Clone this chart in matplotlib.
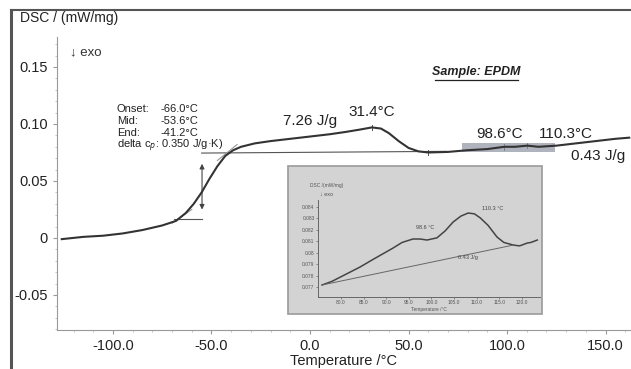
import matplotlib
matplotlib.use("Agg")
import matplotlib.pyplot as plt
from matplotlib.patches import Rectangle
from matplotlib.ticker import MultipleLocator, FuncFormatter

plt.rcParams['font.family'] = ['Liberation Sans', 'DejaVu Sans']

# main DSC curve (temperature in degC, DSC in mW/mg)
temp = [-126, -115, -105, -95, -85, -75, -68, -63, -59, -55, -51, -47, -43, -39,
        -35, -28, -20, -10, 0, 10, 18, 25, 31.4, 36, 40, 45, 50, 55, 60, 70, 80,
        90, 98.6, 104, 110.3, 116, 125, 135, 145, 155, 162]
dsc = [-0.001, 0.001, 0.002, 0.004, 0.007, 0.011, 0.015, 0.022, 0.030, 0.040,
       0.052, 0.063, 0.072, 0.077, 0.080, 0.083, 0.085, 0.087, 0.089, 0.091,
       0.093, 0.095, 0.097, 0.096, 0.092, 0.085, 0.079, 0.076, 0.075, 0.0755,
       0.077, 0.078, 0.080, 0.080, 0.081, 0.080, 0.081, 0.083, 0.085, 0.087, 0.088]

# zoomed region (inset)
in_temp = [75.8, 78, 84.2, 87, 91.5, 93.5, 95.9, 97.5, 99.0, 101.2, 103, 104.8,
           106.5, 108.1, 109.5, 110.8, 112.5, 114.5, 116, 118.1, 119.5, 121.2, 122, 123.4]
in_dsc = [0.07718, 0.0775, 0.07875, 0.0794, 0.08041, 0.0809, 0.0812, 0.0812,
          0.08111, 0.0813, 0.0819, 0.08269, 0.0832, 0.08347, 0.0834, 0.08304,
          0.0824, 0.08137, 0.0809, 0.08067, 0.0806, 0.08085, 0.0809, 0.08111]
in_base_t = [75.8, 118.1]
in_base_v = [0.07718, 0.08067]

xticks = [-100, -50, 0, 50, 100, 150]
yticks = [-0.05, 0, 0.05, 0.10, 0.15]
in_xticks = [80, 85, 90, 95, 100, 105, 110, 115, 120]
in_yticks = [0.077, 0.078, 0.079, 0.080, 0.081, 0.082, 0.083, 0.084]
in_ylabels = ['0.077', '0.078', '0.079', '0.08', '0.081', '0.082', '0.083', '0.084']

W, H = 631, 369
fig = plt.figure(figsize=(W / 100, H / 100), dpi=100)

def fx(px):
    return px / W

def fy(py):
    return 1 - py / H

# outer frame
fig.add_artist(plt.Line2D([fx(11), fx(11)], [fy(10), 0], color='#555555', lw=2.2, transform=fig.transFigure))
fig.add_artist(plt.Line2D([fx(11), 1], [fy(10), fy(10)], color='#555555', lw=1.5, transform=fig.transFigure))

ax = fig.add_axes([fx(57), fy(330), 1 - fx(57), fy(37) - fy(330)])
ax.set_xlim(-128.4, 162.9)
ax.set_ylim(-0.0807, 0.1763)
ax.plot(temp, dsc, color='#333333', lw=1.5, zorder=5)

for s in ['top', 'right']:
    ax.spines[s].set_visible(False)
for s in ['left', 'bottom']:
    ax.spines[s].set_color('#999999')
    ax.spines[s].set_linewidth(0.8)
ax.set_xticks(xticks)
ax.set_yticks(yticks)
ax.xaxis.set_minor_locator(MultipleLocator(10))
ax.yaxis.set_minor_locator(MultipleLocator(0.01))
ax.xaxis.set_major_formatter(FuncFormatter(lambda v, p: f'{v:.1f}'))
ax.yaxis.set_major_formatter(FuncFormatter(lambda v, p: '0' if abs(v) < 1e-9 else f'{v:.2f}'))
ax.tick_params(axis='both', which='major', length=3, color='#999999', labelsize=10.5, labelcolor='#222222')
ax.tick_params(axis='both', which='minor', length=1.5, color='#bbbbbb')
ax.set_xlabel('Temperature /°C', fontsize=10.5, color='#222222', labelpad=1)

fig.text(fx(20), fy(18), 'DSC / (mW/mg)', fontsize=10, color='#222222', va='center')
ax.text(-122, 0.163, '↓ exo', fontsize=9.5, color='#333333', va='center')

# glass transition construction
ax.plot([-69, -55], [0.0167, 0.0167], color='#555555', lw=0.8)
ax.plot([-55, 69], [0.0745, 0.0760], color='#555555', lw=0.8)
ax.annotate('', xy=(-54.8, 0.0675), xytext=(-54.8, 0.0225),
            arrowprops=dict(arrowstyle='<|-|>', color='#444444', lw=0.8, mutation_scale=7))
ax.plot([-70, -60], [0.013, 0.025], color='#999999', lw=0.8)
ax.plot([-47, -37], [0.068, 0.082], color='#999999', lw=0.8)

rows = [('Onset:', '-66.0°C'), ('Mid:', '-53.6°C'), ('End:', '-41.2°C')]
for i, (a, b) in enumerate(rows):
    ax.text(-98, 0.1128 - i * 0.0105, a, fontsize=8, color='#222222', va='center')
    ax.text(-76, 0.1128 - i * 0.0105, b, fontsize=8, color='#222222', va='center')
ax.text(-98, 0.1128 - 3 * 0.0105, 'delta c$_p$: 0.350 J/g·K)', fontsize=8, color='#222222', va='center')

# peak markers
for t, v in [(31.4, 0.097), (60, 0.075), (98.6, 0.080), (110.3, 0.081)]:
    ax.plot([t, t], [v - 0.0025, v + 0.0025], color='#555555', lw=0.7)

ax.text(0, 0.1025, '7.26 J/g', fontsize=11, color='#222222', ha='center', va='center')
ax.text(31.4, 0.1105, '31.4°C', fontsize=11, color='#222222', ha='center', va='center')
ax.text(96, 0.0915, '98.6°C', fontsize=11, color='#222222', ha='center', va='center')
ax.text(130, 0.0915, '110.3°C', fontsize=11, color='#222222', ha='center', va='center')
ax.text(146, 0.0715, '0.43 J/g', fontsize=11, color='#222222', ha='center', va='center')
ax.text(fx(476), fy(72), 'Sample: EPDM', transform=fig.transFigure, fontsize=9, fontweight='bold',
        style='italic', color='#222222', ha='center', va='center')
ax.plot([fx(435), fx(518)], [fy(80), fy(80)], transform=fig.transFigure, color='#222222', lw=0.9)

ax.add_patch(Rectangle((77, 0.0754), 47.5, 0.0079, facecolor='#8d93a3', alpha=0.7,
                       edgecolor='none', zorder=3))

# inset
fig.add_artist(Rectangle((fx(288), fy(314)), fx(542) - fx(288), fy(166) - fy(314),
                         transform=fig.transFigure, facecolor='#d3d3d3',
                         edgecolor='#9a9a9a', lw=1.2, zorder=6))
ia = fig.add_axes([fx(318), fy(297), fx(540) - fx(318), fy(200) - fy(297)], zorder=7)
ia.patch.set_alpha(0)
ia.set_xlim(74.9, 124.0)
ia.set_ylim(0.07613, 0.08461)
ia.plot(in_temp, in_dsc, color='#444444', lw=1.1)
ia.plot(in_base_t, in_base_v, color='#666666', lw=0.7)
for s in ['top', 'right']:
    ia.spines[s].set_visible(False)
for s in ['left', 'bottom']:
    ia.spines[s].set_color('#666666')
    ia.spines[s].set_linewidth(0.7)
ia.set_xticks(in_xticks)
ia.set_xticklabels([f'{t:.1f}' for t in in_xticks])
ia.set_yticks(in_yticks)
ia.set_yticklabels(in_ylabels)
ia.tick_params(labelsize=3.5, length=1.5, width=0.5, color='#666666', labelcolor='#555555', pad=1)
ia.set_xlabel('Temperature /°C', fontsize=3.5, color='#555555', labelpad=1)
fig.text(fx(310), fy(186), 'DSC /(mW/mg)', fontsize=3.5, color='#555555', va='center', zorder=8)
fig.text(fx(320), fy(194), '↓ exo', fontsize=4, color='#555555', va='center', zorder=8)
ia.text(98.5, 0.0822, '98.6 °C', fontsize=4, color='#444444', ha='center', va='center')
ia.text(113.5, 0.0839, '110.3 °C', fontsize=4, color='#444444', ha='center', va='center')
ia.text(108, 0.0796, '0.43 J/g', fontsize=4, color='#444444', ha='center', va='center')

fig.savefig('out.png', dpi=100)
